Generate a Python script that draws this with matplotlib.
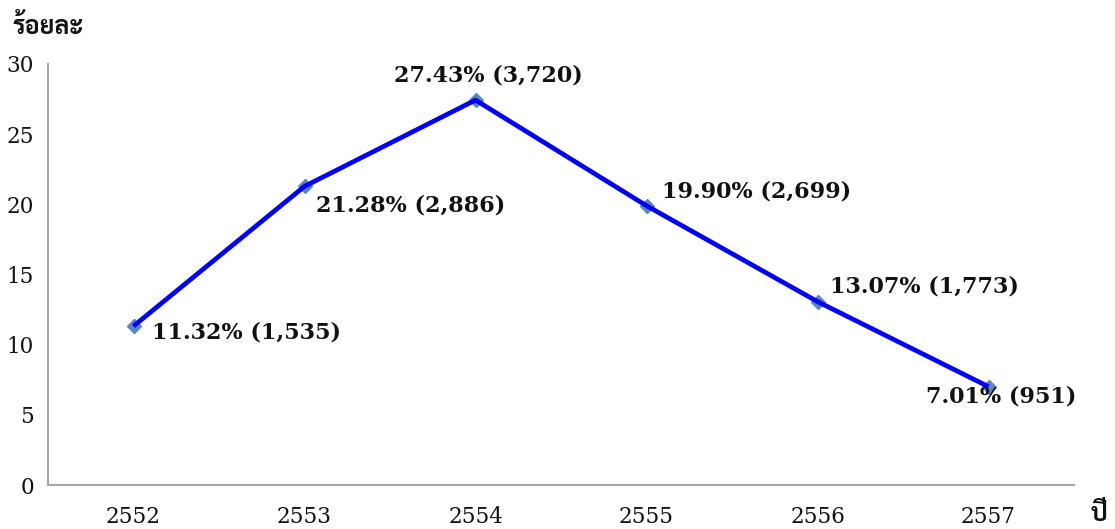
import matplotlib
matplotlib.use('Agg')
import matplotlib.pyplot as plt

years = ['2552', '2553', '2554', '2555', '2556', '2557']
percent = [11.32, 21.28, 27.43, 19.90, 13.07, 7.01]
counts = ['1,535', '2,886', '3,720', '2,699', '1,773', '951']

# label offsets in pixels (dx, dy) from each point
label_offsets = [(18, -6), (11, -19), (-82, 25), (15, 14), (13, 15), (-63, -10)]

serif = ['DejaVu Serif']
thai = ['Sarabun', 'Noto Sans Thai Looped', 'DejaVu Sans']

fig = plt.figure(figsize=(11.15, 5.29), dpi=100)
ax = fig.add_axes([48 / 1115, 44 / 529, 1026 / 1115, 421 / 529])

x = list(range(len(years)))
ax.plot(x, percent, color='#0000ff', linewidth=3.4, zorder=3, solid_capstyle='butt')
ax.plot(x, percent, linestyle='none', marker='D', markersize=7.5,
        color='#5b86b8', zorder=2)

for i in x:
    dx, dy = label_offsets[i]
    ax.annotate('%.2f%% (%s)' % (percent[i], counts[i]), (i, percent[i]),
                xytext=(dx * 0.72, dy * 0.72), textcoords='offset points',
                ha='left', va='center', fontsize=16, fontweight='bold',
                family=serif, color='#111111', zorder=4)

ax.set_xlim(-0.5, len(years) - 0.5)
ax.set_ylim(0, 30)
ax.set_yticks([0, 5, 10, 15, 20, 25, 30])
ax.set_xticks(x)
ax.set_xticklabels(years)
ax.tick_params(length=0, labelsize=15.5)
ax.tick_params(axis='y', pad=10)
ax.tick_params(axis='x', pad=15)
for lab in ax.get_xticklabels() + ax.get_yticklabels():
    lab.set_family(serif)
    lab.set_color('#111111')

ax.spines['top'].set_visible(False)
ax.spines['right'].set_visible(False)
ax.spines['left'].set_color('#a6a6a6')
ax.spines['bottom'].set_color('#a6a6a6')
ax.spines['left'].set_linewidth(1.5)
ax.spines['bottom'].set_linewidth(1.5)

fig.text(12 / 1115, 1 - 28 / 529, 'ร้อยละ', family=thai, fontweight='bold',
         fontsize=18, va='center', ha='left', color='#111111')
fig.text(1099 / 1115, 1 - 515 / 529, 'ปี', family=thai, fontweight='bold',
         fontsize=18, va='center', ha='center', color='#111111')

fig.savefig('out.png', dpi=100)
